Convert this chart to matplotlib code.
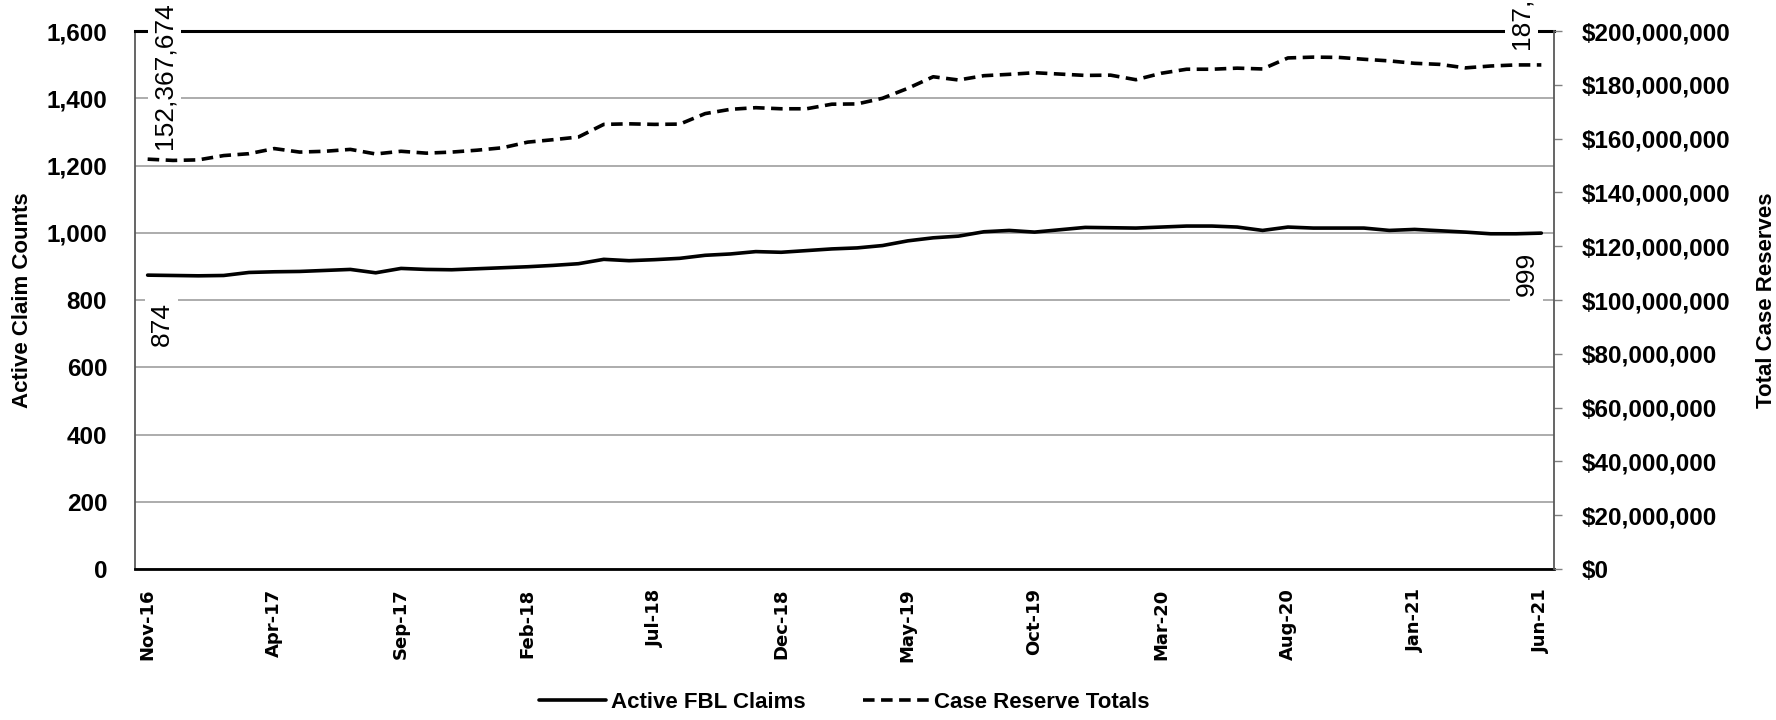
import numpy as np
import pandas as pd
import matplotlib
matplotlib.use('Agg')
import matplotlib.pyplot as plt
from matplotlib.ticker import FuncFormatter, MultipleLocator

plt.rcParams['font.family'] = ['Liberation Sans', 'DejaVu Sans']

# monthly series, Nov-16 .. Jun-21
months = pd.date_range('2016-11-01', periods=56, freq='MS')
month_labels = [m.strftime('%b-%y') for m in months]

active_claims = [
    874, 873, 872, 873, 882, 884, 885, 888, 891, 881,
    894, 891, 890, 893, 896, 899, 903, 908, 921, 917,
    920, 924, 933, 937, 944, 942, 947, 952, 955, 962,
    976, 985, 990, 1003, 1007, 1002, 1009, 1016, 1015, 1014,
    1017, 1020, 1020, 1017, 1007, 1017, 1014, 1014, 1014, 1007,
    1010, 1006, 1002, 997, 997, 999,
]

# case reserve totals, $ millions
case_reserves = [
    152.367674, 151.9, 152.1, 153.7, 154.4, 156.3, 155.0, 155.3, 156.0, 154.3,
    155.3, 154.6, 155.0, 155.7, 156.6, 158.7, 159.6, 160.6, 165.3, 165.5,
    165.3, 165.4, 169.3, 170.9, 171.5, 171.1, 171.1, 172.8, 172.9, 175.0,
    178.7, 183.0, 181.8, 183.4, 183.9, 184.5, 184.0, 183.5, 183.6, 181.9,
    184.3, 185.8, 185.8, 186.2, 185.9, 190.0, 190.3, 190.2, 189.5, 188.9,
    188.0, 187.6, 186.3, 187.0, 187.4, 187.4,
]

x = np.arange(len(month_labels))
reserves = np.array(case_reserves) * 1e6

fig = plt.figure(figsize=(17.76, 7.2), dpi=100)
ax = fig.add_axes([0.0760, 0.2097, 0.7990, 0.7472])
ax2 = ax.twinx()

l1, = ax.plot(x, active_claims, color='black', lw=2.6, solid_capstyle='round',
              label='Active FBL Claims')
l2, = ax2.plot(x, reserves, color='black', lw=2.6, dashes=(3.2, 1.8),
               label='Case Reserve Totals')

ax.set_xlim(-0.5, len(x) - 0.5)
ax.set_ylim(0, 1600)
ax2.set_ylim(0, 200_000_000)
ax.yaxis.set_major_locator(MultipleLocator(200))
ax2.yaxis.set_major_locator(MultipleLocator(20_000_000))
ax.yaxis.set_major_formatter(FuncFormatter(lambda v, p: f'{v:,.0f}'))
ax2.yaxis.set_major_formatter(FuncFormatter(lambda v, p: f'${v:,.0f}'))

ax.set_xticks(x[::5])
ax.set_xticklabels(month_labels[::5], rotation=90, fontfamily='DejaVu Sans',
                   fontweight='bold', fontsize=13)
ax.tick_params(axis='x', length=0, pad=14)
ax.tick_params(axis='y', length=0, pad=20, labelsize=17.5)
ax2.tick_params(axis='y', length=6, width=1, color='#808080', pad=14, labelsize=17.5)
for lab in ax.get_yticklabels() + ax2.get_yticklabels():
    lab.set_fontweight('bold')

ax.grid(axis='y', color='#a6a6a6', lw=1.3)
ax.set_axisbelow(True)

ax.spines['top'].set_color('black')
ax.spines['top'].set_linewidth(2.2)
ax.spines['bottom'].set_color('black')
ax.spines['bottom'].set_linewidth(2)
ax.spines['left'].set_color('#595959')
ax.spines['left'].set_linewidth(1.3)
ax.spines['right'].set_visible(False)
for s in ('top', 'bottom', 'left'):
    ax2.spines[s].set_visible(False)
ax2.spines['right'].set_color('#595959')
ax2.spines['right'].set_linewidth(1.3)

ax.set_ylabel('Active Claim Counts', fontsize=16, fontweight='bold', labelpad=10)
ax2.set_ylabel('Total Case Reserves', fontsize=16, fontweight='bold', labelpad=18)

# data labels on first and last points
box = dict(facecolor='white', edgecolor='none', pad=3)
lbl = dict(rotation=90, fontsize=19, textcoords='offset pixels', bbox=box,
           ha='center', zorder=5)
ax2.annotate(f'{reserves[0]:,.0f}', (x[0], reserves[0]), xytext=(17, 10),
             va='bottom', **lbl)
ax2.annotate(f'{reserves[-1]:,.0f}', (x[-1], reserves[-1]), xytext=(-20, 16),
             va='bottom', annotation_clip=False, **lbl)
ax.annotate(f'{active_claims[0]:,}', (x[0], active_claims[0]), xytext=(14, -27),
            va='top', **lbl)
ax.annotate(f'{active_claims[-1]:,}', (x[-1], active_claims[-1]), xytext=(-15, -19),
            va='top', **lbl)

fig.legend(handles=[l1, l2], loc='center', bbox_to_anchor=(0.4755, 0.025),
           ncol=2, frameon=False, handlelength=3.0, handletextpad=0.2,
           columnspacing=2.6, prop={'weight': 'bold', 'size': 16})

fig.savefig('out.png', dpi=100)
